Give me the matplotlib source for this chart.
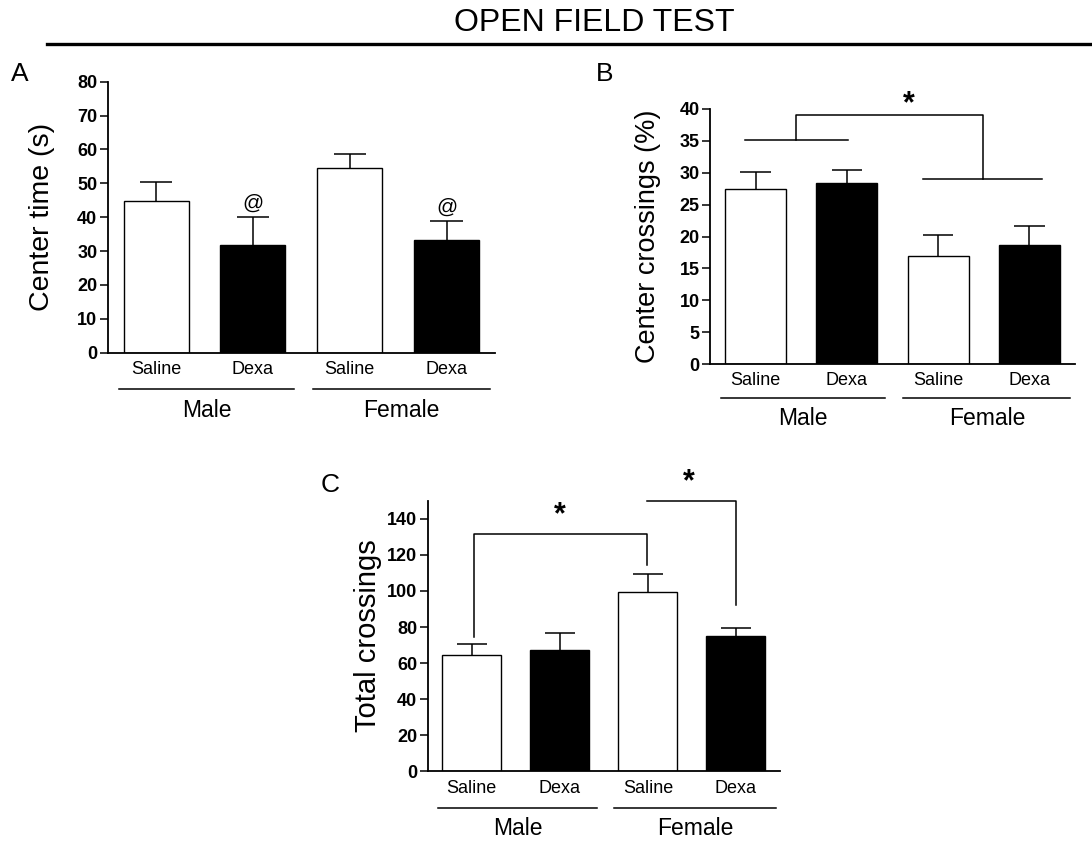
import numpy as np
import matplotlib
matplotlib.use('Agg')
import matplotlib.pyplot as plt
from matplotlib.lines import Line2D

plt.rcParams['font.family'] = ['Liberation Sans', 'DejaVu Sans']

# %% data
conditions = ['Saline', 'Dexa', 'Saline', 'Dexa']
groups = ['Male', 'Female']
bar_colors = ['white', 'black', 'white', 'black']

center_time = [44.8, 31.8, 54.4, 33.2]
center_time_err = [5.7, 8.2, 4.3, 5.8]

center_cross = [27.5, 28.4, 16.9, 18.7]
center_cross_err = [2.6, 2.0, 3.4, 2.9]

total_cross = [64.5, 67.4, 99.4, 75.2]
total_cross_err = [6.1, 9.1, 9.8, 4.4]

# %% figure
fig = plt.figure(figsize=(10.92, 8.43), dpi=100)
BAR_W = 0.67


def star(ax, x, y):
    ax.annotate('*', xy=(x, y), xytext=(0, -9.5), textcoords='offset points',
                ha='center', va='baseline', fontsize=22, fontweight='bold',
                annotation_clip=False)


def panel(rect, values, errs, ylim, yticks, ylabel, ylabel_size, letter, letter_xy):
    ax = fig.add_axes(rect)
    x = np.arange(len(values))
    ax.bar(x, values, width=BAR_W, color=bar_colors, edgecolor='black', linewidth=1.0, zorder=2)
    # upper error bars only
    tops = np.array(values) + np.array(errs)
    ax.vlines(x, values, tops, color='black', lw=1.1, zorder=1)
    ax.hlines(tops, x - BAR_W / 4, x + BAR_W / 4, color='black', lw=1.1, zorder=1)
    ax.set_xlim(-0.5, 3.5)
    ax.set_ylim(*ylim)
    ax.set_yticks(yticks)
    ax.set_yticklabels([str(t) for t in yticks], fontsize=13, fontweight='bold')
    ax.set_xticks(x)
    ax.set_xticklabels(conditions, fontsize=13)
    ax.tick_params(axis='x', length=0, pad=6)
    ax.tick_params(axis='y', length=5.5, width=1.1, pad=2)
    for s in ['top', 'right']:
        ax.spines[s].set_visible(False)
    for s in ['left', 'bottom']:
        ax.spines[s].set_linewidth(1.3)
    ax.text(-0.17, 0.5, ylabel, transform=ax.transAxes, rotation=90,
            ha='center', va='center', fontsize=ylabel_size)
    # group lines below the axis
    tr = ax.get_xaxis_transform()
    for (x0, x1), g in zip([(-0.38, 1.42), (1.62, 3.45)], groups):
        ax.plot([x0, x1], [-0.135, -0.135], color='black', lw=1.1, transform=tr, clip_on=False)
        ax.text((x0 + x1) / 2, -0.213, g, transform=tr, ha='center', va='center', fontsize=16.5)
    fig.text(letter_xy[0], letter_xy[1], letter, ha='center', va='center', fontsize=19)
    return ax


# title and rule
fig.text(0.5444, 0.973, 'OPEN FIELD TEST', ha='center', va='center', fontsize=23)
fig.add_artist(Line2D([0.043, 1.0], [0.9478, 0.9478], color='black', lw=2.4))

# %% A
axA = panel([0.0986, 0.5816, 0.3547, 0.3215], center_time, center_time_err, (0, 80),
            list(range(0, 81, 10)), 'Center time (s)', 20.5, 'A', (0.0183, 0.9122))
for i in [1, 3]:
    axA.text(i, center_time[i] + center_time_err[i] + 1.2, '@', ha='center', va='bottom', fontsize=15)

# %% B
axB = panel([0.6502, 0.5682, 0.3342, 0.3025], center_cross, center_cross_err, (0, 40),
            list(range(0, 41, 5)), 'Center crossings (%)', 19.5, 'B', (0.5534, 0.9122))
axB.plot([-0.12, 1.01], [35.1, 35.1], color='black', lw=1.1, clip_on=False)
axB.plot([0.44, 0.44, 2.49, 2.49], [35.1, 39.0, 39.0, 29.0], color='black', lw=1.1, clip_on=False)
axB.plot([1.83, 3.14], [29.0, 29.0], color='black', lw=1.1, clip_on=False)
star(axB, 1.68, 41.6)

# %% C
axC = panel([0.3917, 0.085, 0.3226, 0.321], total_cross, total_cross_err, (0, 150),
            list(range(0, 141, 20)), 'Total crossings', 21, 'C', (0.3022, 0.4247))
axC.plot([0.02, 0.02, 1.99, 1.99], [74.6, 131.5, 131.5, 114.3], color='black', lw=1.1, clip_on=False)
axC.plot([1.99, 3.0, 3.0], [150, 150, 92.2], color='black', lw=1.1, clip_on=False)
star(axC, 1.0, 144.8)
star(axC, 2.46, 163)

fig.savefig('out.png', dpi=100)
